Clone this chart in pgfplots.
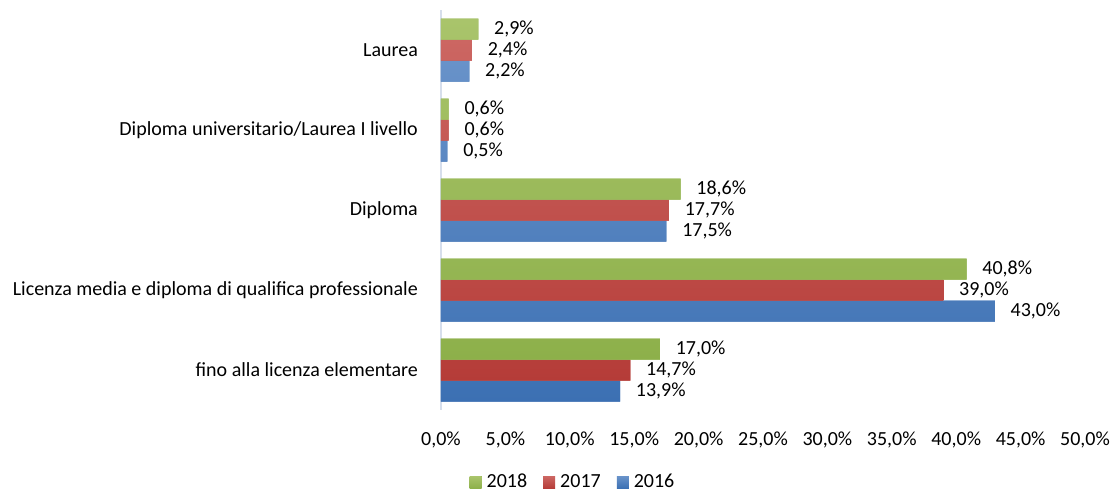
\documentclass[border=0pt]{standalone}
\usepackage{pgfplots}
\pgfplotsset{compat=1.18}
\usepackage{fontspec}
\setmainfont{Carlito}
\definecolor{gT}{HTML}{A9C46B}\definecolor{gB}{HTML}{8DB04A}
\definecolor{rT}{HTML}{CC6662}\definecolor{rB}{HTML}{B53C38}
\definecolor{bT}{HTML}{6892C9}\definecolor{bB}{HTML}{3C70B3}
\definecolor{axc}{HTML}{D6DEEC}
\begin{document}
\fontsize{20pt}{24pt}\selectfont
\begin{tikzpicture}
\path[use as bounding box] (0,0) rectangle (1112pt,493pt);
\begin{axis}[
  at={(441pt,83pt)}, anchor=south west,
  scale only axis, width=644pt, height=400pt,
  xbar=0pt, bar width=21pt,
  y dir=reverse,
  xmin=0, xmax=50, ymin=-0.5, ymax=4.5,
  xtick={0,5,...,50},
  ytick={0,1,2,3,4},
  yticklabels={Laurea,Diploma universitario/Laurea I livello,Diploma,Licenza media e diploma di qualifica professionale,fino alla licenza elementare},
  xticklabel={\pgfmathprintnumber[fixed,fixed zerofill,precision=1,use comma]{\tick}\%},
  /pgf/number format/assume math mode=true,
  tick style={draw=none},
  axis x line*=bottom, axis y line*=left,
  x axis line style={draw=none},
  y axis line style={draw=axc,line width=1.5pt,-},
  font=\fontsize{20pt}{24pt}\selectfont,
  xticklabel style={yshift=-15pt},
  yticklabel style={xshift=-12pt},
  nodes near coords={\pgfmathprintnumber[fixed,fixed zerofill,precision=1,use comma]{\pgfplotspointmeta}\%},
  nodes near coords style={anchor=west,xshift=9pt,font=\fontsize{20pt}{24pt}\selectfont,/pgf/number format/assume math mode=true},
  legend columns=3,
  reverse legend,
  legend style={draw=none,at={(0.205,-0.181)},anchor=center,inner ysep=0pt,font=\fontsize{20pt}{24pt}\selectfont,
    /tikz/every even column/.append style={column sep=14pt}},
  legend image code/.code={\fill[#1] (0pt,-6pt) rectangle (12pt,6pt); \path (15pt,0pt);},
  clip=false,
]
\addplot[draw=none,fill=bB,top color=bT,bottom color=bB] coordinates {(2.2,0) (0.5,1) (17.5,2) (43.0,3) (13.9,4)};
\addplot[draw=none,fill=rB,top color=rT,bottom color=rB] coordinates {(2.4,0) (0.6,1) (17.7,2) (39.0,3) (14.7,4)};
\addplot[draw=none,fill=gB,top color=gT,bottom color=gB] coordinates {(2.9,0) (0.6,1) (18.6,2) (40.8,3) (17.0,4)};
\legend{2016,2017,2018}
\end{axis}
\end{tikzpicture}
\end{document}
